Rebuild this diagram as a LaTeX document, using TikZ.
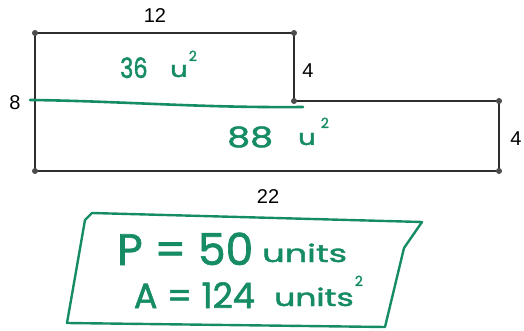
\documentclass[tikz,border=0pt]{standalone}
\usepackage{fontspec}
\setmainfont{Liberation Sans}
\newfontfamily\handfont[FakeBold=1.6]{Poppins}
\definecolor{pen}{RGB}{22,140,100}
\definecolor{edge}{RGB}{45,45,45}
\tikzset{
  x=1pt, y=-1pt,
  edgeline/.style={draw=edge, line width=1.1pt},
  cornerdot/.style={circle, fill=edge!85, inner sep=0pt, minimum size=6pt},
  dimlabel/.style={font=\fontsize{20}{20}\selectfont, text=black, inner sep=1pt},
  greentext/.style={font=\handfont, text=pen, inner sep=0pt},
  penline/.style={draw=pen, line width=2.6pt, line cap=round, line join=round},
  penbox/.style={draw=pen, line width=2.4pt, line cap=round, line join=round}
}
\newcommand{\sq}[1]{\raisebox{#1}{\fontsize{14}{14}\selectfont 2}}
\begin{document}
\begin{tikzpicture}
\useasboundingbox (0,0) rectangle (524,331);
% corners
\coordinate (tl) at (35,33);
\coordinate (tm) at (294,33);
\coordinate (st) at (294,101);
\coordinate (rt) at (499,101);
\coordinate (rb) at (499,171);
\coordinate (bl) at (35,171);
\draw[edgeline] (tl) -- (tm) -- (st) -- (rt) -- (rb) -- (bl) -- cycle;
% green dividing line
\coordinate (ga) at (30,100);
\coordinate (gb) at (303,107);
\draw[penline] (ga) .. controls (120,101) and (200,108) .. (gb);
\foreach \c in {tl,tm,st,rt,rb,bl} \node[cornerdot] (d\c) at (\c) {};
% dimension labels
\node[dimlabel] (l12) at (155,16) {12};
\node[dimlabel] (l4a) at (308,71) {4};
\node[dimlabel] (l8) at (15,103) {8};
\node[dimlabel] (l4b) at (516,139) {4};
\node[dimlabel] (l22) at (268,197) {22};
% area labels
\node[greentext, anchor=base west] (n36) at (120,78) {\scalebox{0.8}[1]{\fontsize{28}{28}\selectfont 36}};
\node[greentext, anchor=base west] (u36) at (170,77) {\scalebox{1.25}[1]{\fontsize{22}{22}\selectfont u}\hspace{1pt}\sq{16pt}};
\node[greentext, anchor=base west] (n88) at (227,147) {\scalebox{1.3}[1]{\fontsize{28}{28}\selectfont 88}};
\node[greentext, anchor=base west] (u88) at (298,145) {\scalebox{1.25}[1]{\fontsize{22}{22}\selectfont u}\hspace{5pt}\sq{17pt}};
% answer box
\coordinate (b1) at (92,213);
\coordinate (b2) at (422,222);
\coordinate (b3) at (404,248);
\coordinate (b4) at (385,327);
\coordinate (b5) at (67,323);
\coordinate (b6) at (85,220);
\draw[penbox] (b1) -- (b2) -- (b3) -- (b4) -- (b5) -- (b6) -- (b1);
\node[greentext, anchor=base west] (pv) at (117,265) {\fontsize{44}{44}\selectfont P = 50};
\node[greentext, anchor=base west] (pu) at (262,262) {\scalebox{1.6}[1.1]{\fontsize{22}{22}\selectfont units}};
\node[greentext, anchor=base east] (av) at (255,308) {\fontsize{35}{35}\selectfont A = 124};
\node[greentext, anchor=base west] (au) at (274,306) {\scalebox{1.5}[1.1]{\fontsize{22}{22}\selectfont units}\hspace{1pt}\sq{20pt}};
\end{tikzpicture}
\end{document}
